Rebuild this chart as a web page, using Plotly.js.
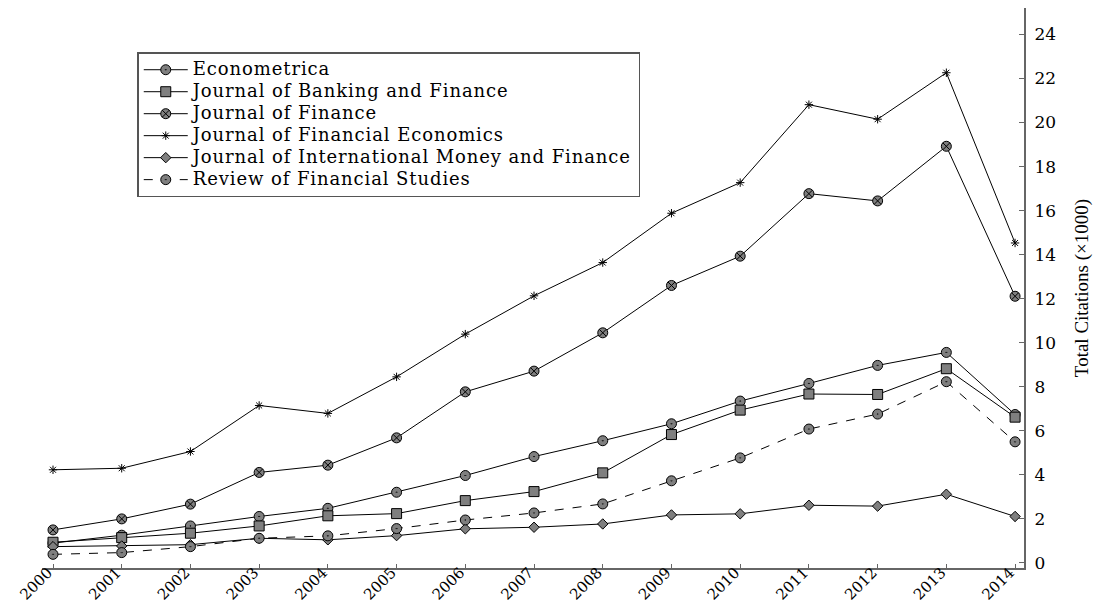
<!DOCTYPE html>
<html>
<head>
<meta charset="utf-8">
<script src="https://cdn.plot.ly/plotly-3.0.1.min.js"></script>
<style>
html,body{margin:0;padding:0;background:#fff;}
#chart{width:1097px;height:603px;}
.legendtext{font-size:18px !important;letter-spacing:0.9px;}
</style>
</head>
<body>
<div id="chart"></div>
<script>
const years = [2000,2001,2002,2003,2004,2005,2006,2007,2008,2009,2010,2011,2012,2013,2014];
const econometrica = [0.90,1.26,1.68,2.11,2.48,3.21,3.97,4.83,5.55,6.32,7.35,8.15,8.97,9.56,6.74];
const jbf = [0.94,1.15,1.35,1.68,2.14,2.24,2.83,3.24,4.09,5.83,6.94,7.67,7.65,8.82,6.62];
const jf = [1.50,2.00,2.67,4.11,4.44,5.68,7.77,8.71,10.45,12.60,13.93,16.77,16.44,18.92,12.11];
const jfe = [4.23,4.30,5.06,7.15,6.79,8.45,10.39,12.13,13.64,15.88,17.27,20.81,20.15,22.26,14.53];
const jimf = [0.74,0.77,0.83,1.12,1.05,1.24,1.55,1.62,1.77,2.18,2.23,2.62,2.58,3.12,2.11];
const rfs = [0.39,0.47,0.74,1.12,1.23,1.56,1.95,2.27,2.68,3.73,4.77,6.08,6.76,8.23,5.50];
const names = ["Econometrica","Journal of Banking and Finance","Journal of Finance","Journal of Financial Economics","Journal of International Money and Finance","Review of Financial Studies"];
const yTicks = [0,2,4,6,8,10,12,14,16,18,20,22,24];

const fill = "#7f7f7f";
function tr(y, name, symbol, size, dash, mfill, lw){
  return {x: years, y: y, name: name, type: "scatter", mode: "lines+markers",
    line: {color: "#000", width: 1, dash: dash || "solid"},
    marker: {symbol: symbol, size: size, color: mfill, line: {color: "#000", width: lw}}};
}
const data = [
  tr(econometrica, names[0], "circle-dot", 10, "solid", fill, 1),
  tr(jbf, names[1], "square", 10, "solid", fill, 1),
  tr(jf, names[2], "circle-x", 10, "solid", fill, 1),
  tr(jfe, names[3], "asterisk-open", 7, "solid", "#000", 1),
  tr(jimf, names[4], "diamond", 8, "solid", fill, 1),
  tr(rfs, names[5], "circle-dot", 10, "dash", fill, 1)
];
const serif = "DejaVu Serif";
const times = "Liberation Serif";
const layout = {
  width: 1097, height: 603,
  margin: {l: 42, r: 73, t: 8, b: 35},
  paper_bgcolor: "#fff", plot_bgcolor: "#fff",
  showlegend: true,
  legend: {x: 0.097, y: 0.921, xanchor: "left", yanchor: "top",
    bordercolor: "#555", borderwidth: 1.5, bgcolor: "#fff", itemwidth: 44,
    font: {family: serif, size: 14.6, color: "#000"}, tracegroupgap: 0},
  xaxis: {range: [1999.84, 2014.13], tickvals: years, ticktext: years.map(String),
    tickangle: -45, showgrid: false, zeroline: false, showline: true,
    linecolor: "#666", linewidth: 2, ticks: "inside", ticklen: 4, tickcolor: "#666",
    ticklabelstandoff: -12, ticklabelshift: -5,
    tickfont: {family: serif, size: 15, color: "#000"}},
  yaxis: {range: [-0.23, 25.2], side: "right", tickvals: yTicks, ticktext: yTicks.map(String),
    showgrid: false, zeroline: false, showline: true, linecolor: "#666", linewidth: 2,
    ticks: "inside", ticklen: 5, tickcolor: "#666", ticklabelstandoff: 5,
    tickfont: {family: serif, size: 17, color: "#000"},
    title: {text: "Total Citations (×1000)", font: {family: times, size: 19, color: "#000"}, standoff: 20}}
};
Plotly.newPlot("chart", data, layout, {displayModeBar: false, staticPlot: true});
</script>
</body>
</html>
